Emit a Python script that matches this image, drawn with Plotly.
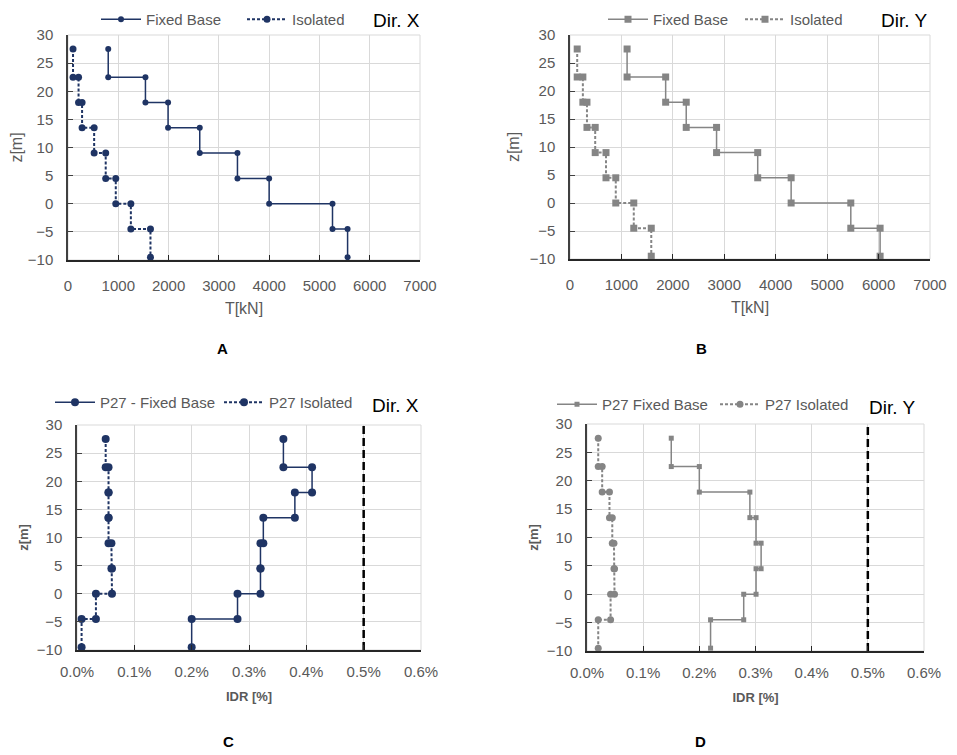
import plotly.graph_objects as go

# ---------------- data ----------------
levels = [27.5, 22.5, 18, 13.5, 9, 4.5, 0, -4.5, -9.5]

shear_x_fixed = [800, 1540, 1990, 2620, 3370, 4000, 5260, 5560]
shear_x_iso = [100, 210, 280, 520, 750, 950, 1250, 1640]
shear_y_fixed = [1110, 1860, 2260, 2850, 3650, 4300, 5460, 6030]
shear_y_iso = [140, 250, 330, 490, 700, 890, 1240, 1580]

idr_x_fixed = [0.36, 0.41, 0.38, 0.325, 0.32, 0.32, 0.28, 0.20]
idr_x_iso = [0.050, 0.055, 0.055, 0.055, 0.060, 0.061, 0.033, 0.008]
idr_y_fixed = [0.150, 0.200, 0.290, 0.301, 0.310, 0.301, 0.279, 0.220]
idr_y_iso = [0.020, 0.027, 0.040, 0.045, 0.048, 0.049, 0.042, 0.020]
idr_limit = 0.5

shear_ticks = [0, 1000, 2000, 3000, 4000, 5000, 6000, 7000]
idr_ticks = [0.0, 0.1, 0.2, 0.3, 0.4, 0.5, 0.6]
z_ticks = [-10, -5, 0, 5, 10, 15, 20, 25, 30]

NAVY = "#1f3464"
GRAY = "#858585"
TXT = "#595959"
GRID = "#d9d9d9"
FONT = "Liberation Sans"
SHORTDASH = "3px,2px"


def steps(vals):
    xs, ys = [], []
    for i, v in enumerate(vals):
        xs += [v, v]
        ys += [levels[i], levels[i + 1]]
    return xs, ys


fig = go.Figure()

panels = [
    ("x", "y", "legend", shear_x_fixed, shear_x_iso, ("Fixed Base", "Isolated"), NAVY, "circle", "circle", (6, 7)),
    ("x2", "y2", "legend2", shear_y_fixed, shear_y_iso, ("Fixed Base", "Isolated"), GRAY, "square", "square", (7, 7)),
    ("x3", "y3", "legend3", idr_x_fixed, idr_x_iso, ("P27 - Fixed Base", "P27 Isolated"), NAVY, "circle", "circle", (8, 8)),
    ("x4", "y4", "legend4", idr_y_fixed, idr_y_iso, ("P27 Fixed Base", "P27 Isolated"), GRAY, "square", "circle", (5, 7)),
]

for xa, ya, lg, fx, iso, names, col, s1, s2, sz in panels:
    x1, y1 = steps(fx)
    x2, y2 = steps(iso)
    fig.add_trace(go.Scatter(x=x1, y=y1, mode="lines+markers", name=names[0],
                             line=dict(color=col, width=1.5),
                             marker=dict(color=col, symbol=s1, size=sz[0]),
                             xaxis=xa, yaxis=ya, legend=lg))
    fig.add_trace(go.Scatter(x=x2, y=y2, mode="lines+markers", name=names[1],
                             line=dict(color=col, width=2, dash=SHORTDASH),
                             marker=dict(color=col, symbol=s2, size=sz[1]),
                             xaxis=xa, yaxis=ya, legend=lg))

for xa, ya in [("x3", "y3"), ("x4", "y4")]:
    fig.add_trace(go.Scatter(x=[idr_limit, idr_limit], y=[-10, 30], mode="lines",
                             line=dict(color="black", width=2.5, dash="8px,4px"),
                             showlegend=False, hoverinfo="skip",
                             xaxis=xa, yaxis=ya))

# page body has an 8px margin: the figure starts at (8, 8) on the page
OFF = 8
W, H = 957 - OFF, 755 - OFF


def fx_(p):
    return (p - OFF) / W


def fy_(p):
    return 1 - (p - OFF) / H


def px_x(a, b):
    return [fx_(a), fx_(b)]


def px_y(top, bottom):
    return [fy_(bottom), fy_(top)]


doms = {
    1: (px_x(68, 420), px_y(35, 260)),
    2: (px_x(570, 930), px_y(35, 259)),
    3: (px_x(77, 421), px_y(425, 650)),
    4: (px_x(587, 924), px_y(424, 651)),
}

tickfont = dict(family=FONT, size=15, color=TXT)


def xaxis_cfg(i, idr):
    d = dict(domain=doms[i][0], anchor="y" + ("" if i == 1 else str(i)),
             showgrid=True, gridcolor=GRID, gridwidth=1,
             showline=True, linecolor="#262626", linewidth=1.5,
             ticks="inside", ticklen=5, tickcolor="#262626",
             tickfont=tickfont, zeroline=False, mirror=False,
             automargin=False)
    if idr:
        d.update(range=[0, 0.6], tickvals=idr_ticks,
                 ticktext=[f"{v:.1f}%" for v in idr_ticks], ticklabelstandoff=7,
                 title=dict(text="<b>IDR [%]</b>", font=dict(family=FONT, size=13, color=TXT), standoff=13))
    else:
        d.update(range=[0, 7000], tickvals=shear_ticks, ticklabelstandoff=11,
                 title=dict(text="T[kN]", font=dict(family=FONT, size=16, color=TXT), standoff=10))
    return d


def yaxis_cfg(i, idr):
    d = dict(domain=doms[i][1], anchor="x" + ("" if i == 1 else str(i)),
             range=[-10, 30], tickvals=z_ticks,
             showgrid=True, gridcolor=GRID, gridwidth=1,
             showline=True, linecolor="#404040", linewidth=1.5,
             ticks="inside", ticklen=5, tickcolor="#404040",
             tickfont=tickfont, zeroline=False, ticklabelstandoff=10,
             automargin=False)
    if idr:
        d.update(title=dict(text="<b>z[m]</b>", font=dict(family=FONT, size=13, color=TXT), standoff=5))
    else:
        d.update(title=dict(text="z[m]", font=dict(family=FONT, size=16, color=TXT), standoff=6))
    return d


layout = dict(width=W, height=H, margin=dict(l=0, r=0, t=0, b=0, autoexpand=False),
              paper_bgcolor="white", plot_bgcolor="white",
              font=dict(family=FONT, color=TXT))
for i in range(1, 5):
    idr = i >= 3
    key = "" if i == 1 else str(i)
    layout["xaxis" + key] = xaxis_cfg(i, idr)
    layout["yaxis" + key] = yaxis_cfg(i, idr)

leg_font = dict(family=FONT, size=15, color=TXT)
# (left px, top px, entry width px)
leg_pos = {
    "legend": (96, 3, 91),
    "legend2": (603, 3, 82),
    "legend3": (50, 386, 114),
    "legend4": (552, 388, 108),
}
for lg, (lx, ly, ew) in leg_pos.items():
    layout[lg] = dict(orientation="h", x=fx_(lx), y=fy_(ly), xanchor="left", yanchor="top",
                      font=leg_font, bgcolor="rgba(0,0,0,0)", itemwidth=40, tracegroupgap=0,
                      entrywidth=ew, entrywidthmode="pixels")

fig.update_layout(**layout)

for i in range(1, 5):
    key = "" if i == 1 else str(i)
    fig.add_shape(type="rect", xref=f"x{key} domain", yref=f"y{key} domain",
                  x0=0, x1=1, y0=0, y1=1, line=dict(color=GRID, width=1), layer="below")

# (text, centre x px, top y px)
dir_labels = [("Dir. X", 396, 8.5), ("Dir. Y", 904, 8.5), ("Dir. X", 395, 394), ("Dir. Y", 892, 396)]
for text, cx, ty in dir_labels:
    fig.add_annotation(text=text, x=fx_(cx), y=fy_(ty), xref="paper", yref="paper",
                       showarrow=False, font=dict(family=FONT, size=19, color="black"),
                       xanchor="center", yanchor="top", borderpad=0)

letters = [("A", 222, 348), ("B", 701, 348), ("C", 228, 741), ("D", 700, 741)]
for text, cx, cy in letters:
    fig.add_annotation(text=f"<b>{text}</b>", x=fx_(cx), y=fy_(cy), xref="paper", yref="paper",
                       showarrow=False, font=dict(family=FONT, size=15, color="black"),
                       xanchor="center", yanchor="middle")

fig.write_html("out.html")
